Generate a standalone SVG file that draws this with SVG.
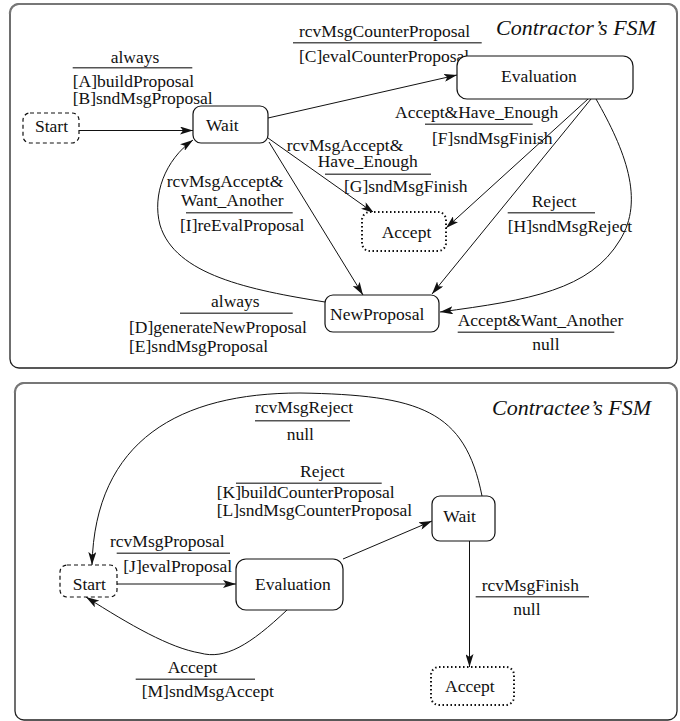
<svg xmlns="http://www.w3.org/2000/svg" width="680" height="721" viewBox="0 0 680 721">
<defs>
<marker id="arr" viewBox="0 0 13 8" refX="13" refY="4" markerWidth="13" markerHeight="8" markerUnits="userSpaceOnUse" orient="auto">
<path d="M0,0 L13,4 L0,8 L3,4 z" fill="#111"/>
</marker>
<style>
text{font-family:"Liberation Serif","Times New Roman",serif;font-size:17.5px;fill:#111}
.title{font-style:italic;font-size:22px}
.node{fill:#fff;stroke:#111;stroke-width:1.2}
.dash{stroke-dasharray:4,3}
.dot{stroke-dasharray:1.5,2.5;stroke-width:2}
.panel{fill:none;stroke:#222;stroke-width:1.3}
.ptop{fill:none;stroke:#777;stroke-width:2.2}
.edge{fill:none;stroke:#111;stroke-width:1;marker-end:url(#arr)}
.ul{stroke:#555;stroke-width:1.5}
</style>
</defs>
<rect width="680" height="721" fill="#fff"/>

<g id="panel-contractor">
<rect class="panel" x="10" y="4" width="667" height="364" rx="9"/>
<path class="ptop" d="M10,14 A9,9 0 0 1 19,4 L668,4 A9,9 0 0 1 677,13"/>
<text class="title" x="496" y="34.5">Contractor’s FSM</text>
</g>
<g id="panel-contractee">
<rect class="panel" x="15" y="383" width="662" height="337" rx="9"/>
<path class="ptop" d="M15,393 A9,9 0 0 1 24,383 L668,383 A9,9 0 0 1 677,392"/>
<text class="title" x="492" y="415">Contractee’s FSM</text>
</g>

<g id="connectors">
<!-- top -->
<path class="edge" d="M79,130.5 L193,130.5"/>
<path class="edge" d="M268,118 L457,75"/>
<path class="edge" d="M268,138 L374,213"/>
<path class="edge" d="M269,142 L363,295"/>
<path class="edge" d="M325,302 C250,290 175,275 160,225 C152,195 165,160 193,140"/>
<path class="edge" d="M588,99 L446,228"/>
<path class="edge" d="M591,99 L432,294"/>
<path class="edge" d="M596,99 C625,150 645,200 620,240 C590,290 530,300 440,312"/>
<!-- bottom -->
<path class="edge" d="M117,584 L236,584"/>
<path class="edge" d="M343,559 L432,521"/>
<path class="edge" d="M482,496 C465,410 420,395 300,393 C180,393 95,440 92,565"/>
<path class="edge" d="M287,610 C250,645 225,660 200,653 C170,648 130,625 86,597"/>
<path class="edge" d="M469.5,541 L469.5,667"/>
</g>

<g id="labels">
<text x="110.7" y="63">always</text>
<line class="ul" x1="72.7" y1="67.7" x2="192.3" y2="67.7"/>
<text x="72.7" y="86.5">[A]buildProposal</text>
<text x="72.7" y="104.3">[B]sndMsgProposal</text>

<text x="299" y="36.5">rcvMsgCounterProposal</text>
<line class="ul" x1="293" y1="42.7" x2="481.7" y2="42.7"/>
<text x="299" y="61.5">[C]evalCounterProposal</text>

<text x="395" y="118">Accept&amp;Have_Enough</text>
<line class="ul" x1="425" y1="124.3" x2="532.7" y2="124.3"/>
<text x="432" y="144">[F]sndMsgFinish</text>

<text x="286.7" y="151">rcvMsgAccept&amp;</text>
<text x="317.7" y="167">Have_Enough</text>
<line class="ul" x1="325" y1="174.3" x2="431" y2="174.3"/>
<text x="344" y="191.7">[G]sndMsgFinish</text>

<text x="166.7" y="187.3">rcvMsgAccept&amp;</text>
<text x="181" y="205.5">Want_Another</text>
<line class="ul" x1="186" y1="212.7" x2="292.7" y2="212.7"/>
<text x="180" y="230.7">[I]reEvalProposal</text>

<text x="531.7" y="206.7">Reject</text>
<line class="ul" x1="507.7" y1="212.7" x2="595" y2="212.7"/>
<text x="507.7" y="231.7">[H]sndMsgReject</text>

<text x="211" y="306.7">always</text>
<line class="ul" x1="180" y1="313.3" x2="292.7" y2="313.3"/>
<text x="129" y="332.7">[D]generateNewProposal</text>
<text x="129" y="351.7">[E]sndMsgProposal</text>

<text x="457.7" y="326">Accept&amp;Want_Another</text>
<line class="ul" x1="457.7" y1="332.3" x2="614.3" y2="332.3"/>
<text x="532.3" y="350">null</text>

<text x="255" y="413.3">rcvMsgReject</text>
<line class="ul" x1="255" y1="420.7" x2="350" y2="420.7"/>
<text x="286.7" y="440">null</text>

<text x="300" y="476.7">Reject</text>
<line class="ul" x1="236" y1="483.3" x2="381.7" y2="483.3"/>
<text x="216.7" y="498.3">[K]buildCounterProposal</text>
<text x="216.7" y="516">[L]sndMsgCounterProposal</text>

<text x="110" y="547.3">rcvMsgProposal</text>
<line class="ul" x1="116.7" y1="553.3" x2="230" y2="553.3"/>
<text x="123.3" y="571.7">[J]evalProposal</text>

<text x="481.7" y="590.7">rcvMsgFinish</text>
<line class="ul" x1="475.7" y1="596.7" x2="589" y2="596.7"/>
<text x="513.3" y="615">null</text>

<text x="167.7" y="672.7">Accept</text>
<line class="ul" x1="135.7" y1="679.3" x2="255" y2="679.3"/>
<text x="141.7" y="696.7">[M]sndMsgAccept</text>
</g>

<g id="c-start">
<rect class="node dash" x="23" y="113" width="56" height="30" rx="7"/>
<text x="35" y="131.5">Start</text>
</g>
<g id="c-wait">
<rect class="node" x="193" y="106" width="75" height="37" rx="8"/>
<text x="206" y="130.7">Wait</text>
</g>
<g id="c-evaluation">
<rect class="node" x="457" y="56" width="176" height="43" rx="10"/>
<text x="501" y="81.7">Evaluation</text>
</g>
<g id="c-accept">
<rect class="node dot" x="362" y="212" width="84" height="39" rx="8"/>
<text x="381.7" y="237.7">Accept</text>
</g>
<g id="c-newproposal">
<rect class="node" x="325" y="295" width="114" height="37" rx="8"/>
<text x="330" y="320">NewProposal</text>
</g>

<g id="e-start">
<rect class="node dash" x="60" y="565" width="57" height="32" rx="7"/>
<text x="72.7" y="590">Start</text>
</g>
<g id="e-evaluation">
<rect class="node" x="236" y="559" width="107" height="51" rx="10"/>
<text x="255" y="590">Evaluation</text>
</g>
<g id="e-wait">
<rect class="node" x="432" y="496" width="63" height="45" rx="8"/>
<text x="443.3" y="521.7">Wait</text>
</g>
<g id="e-accept">
<rect class="node dot" x="431" y="667" width="83" height="38" rx="8"/>
<text x="445" y="691.7">Accept</text>
</g>
</svg>
